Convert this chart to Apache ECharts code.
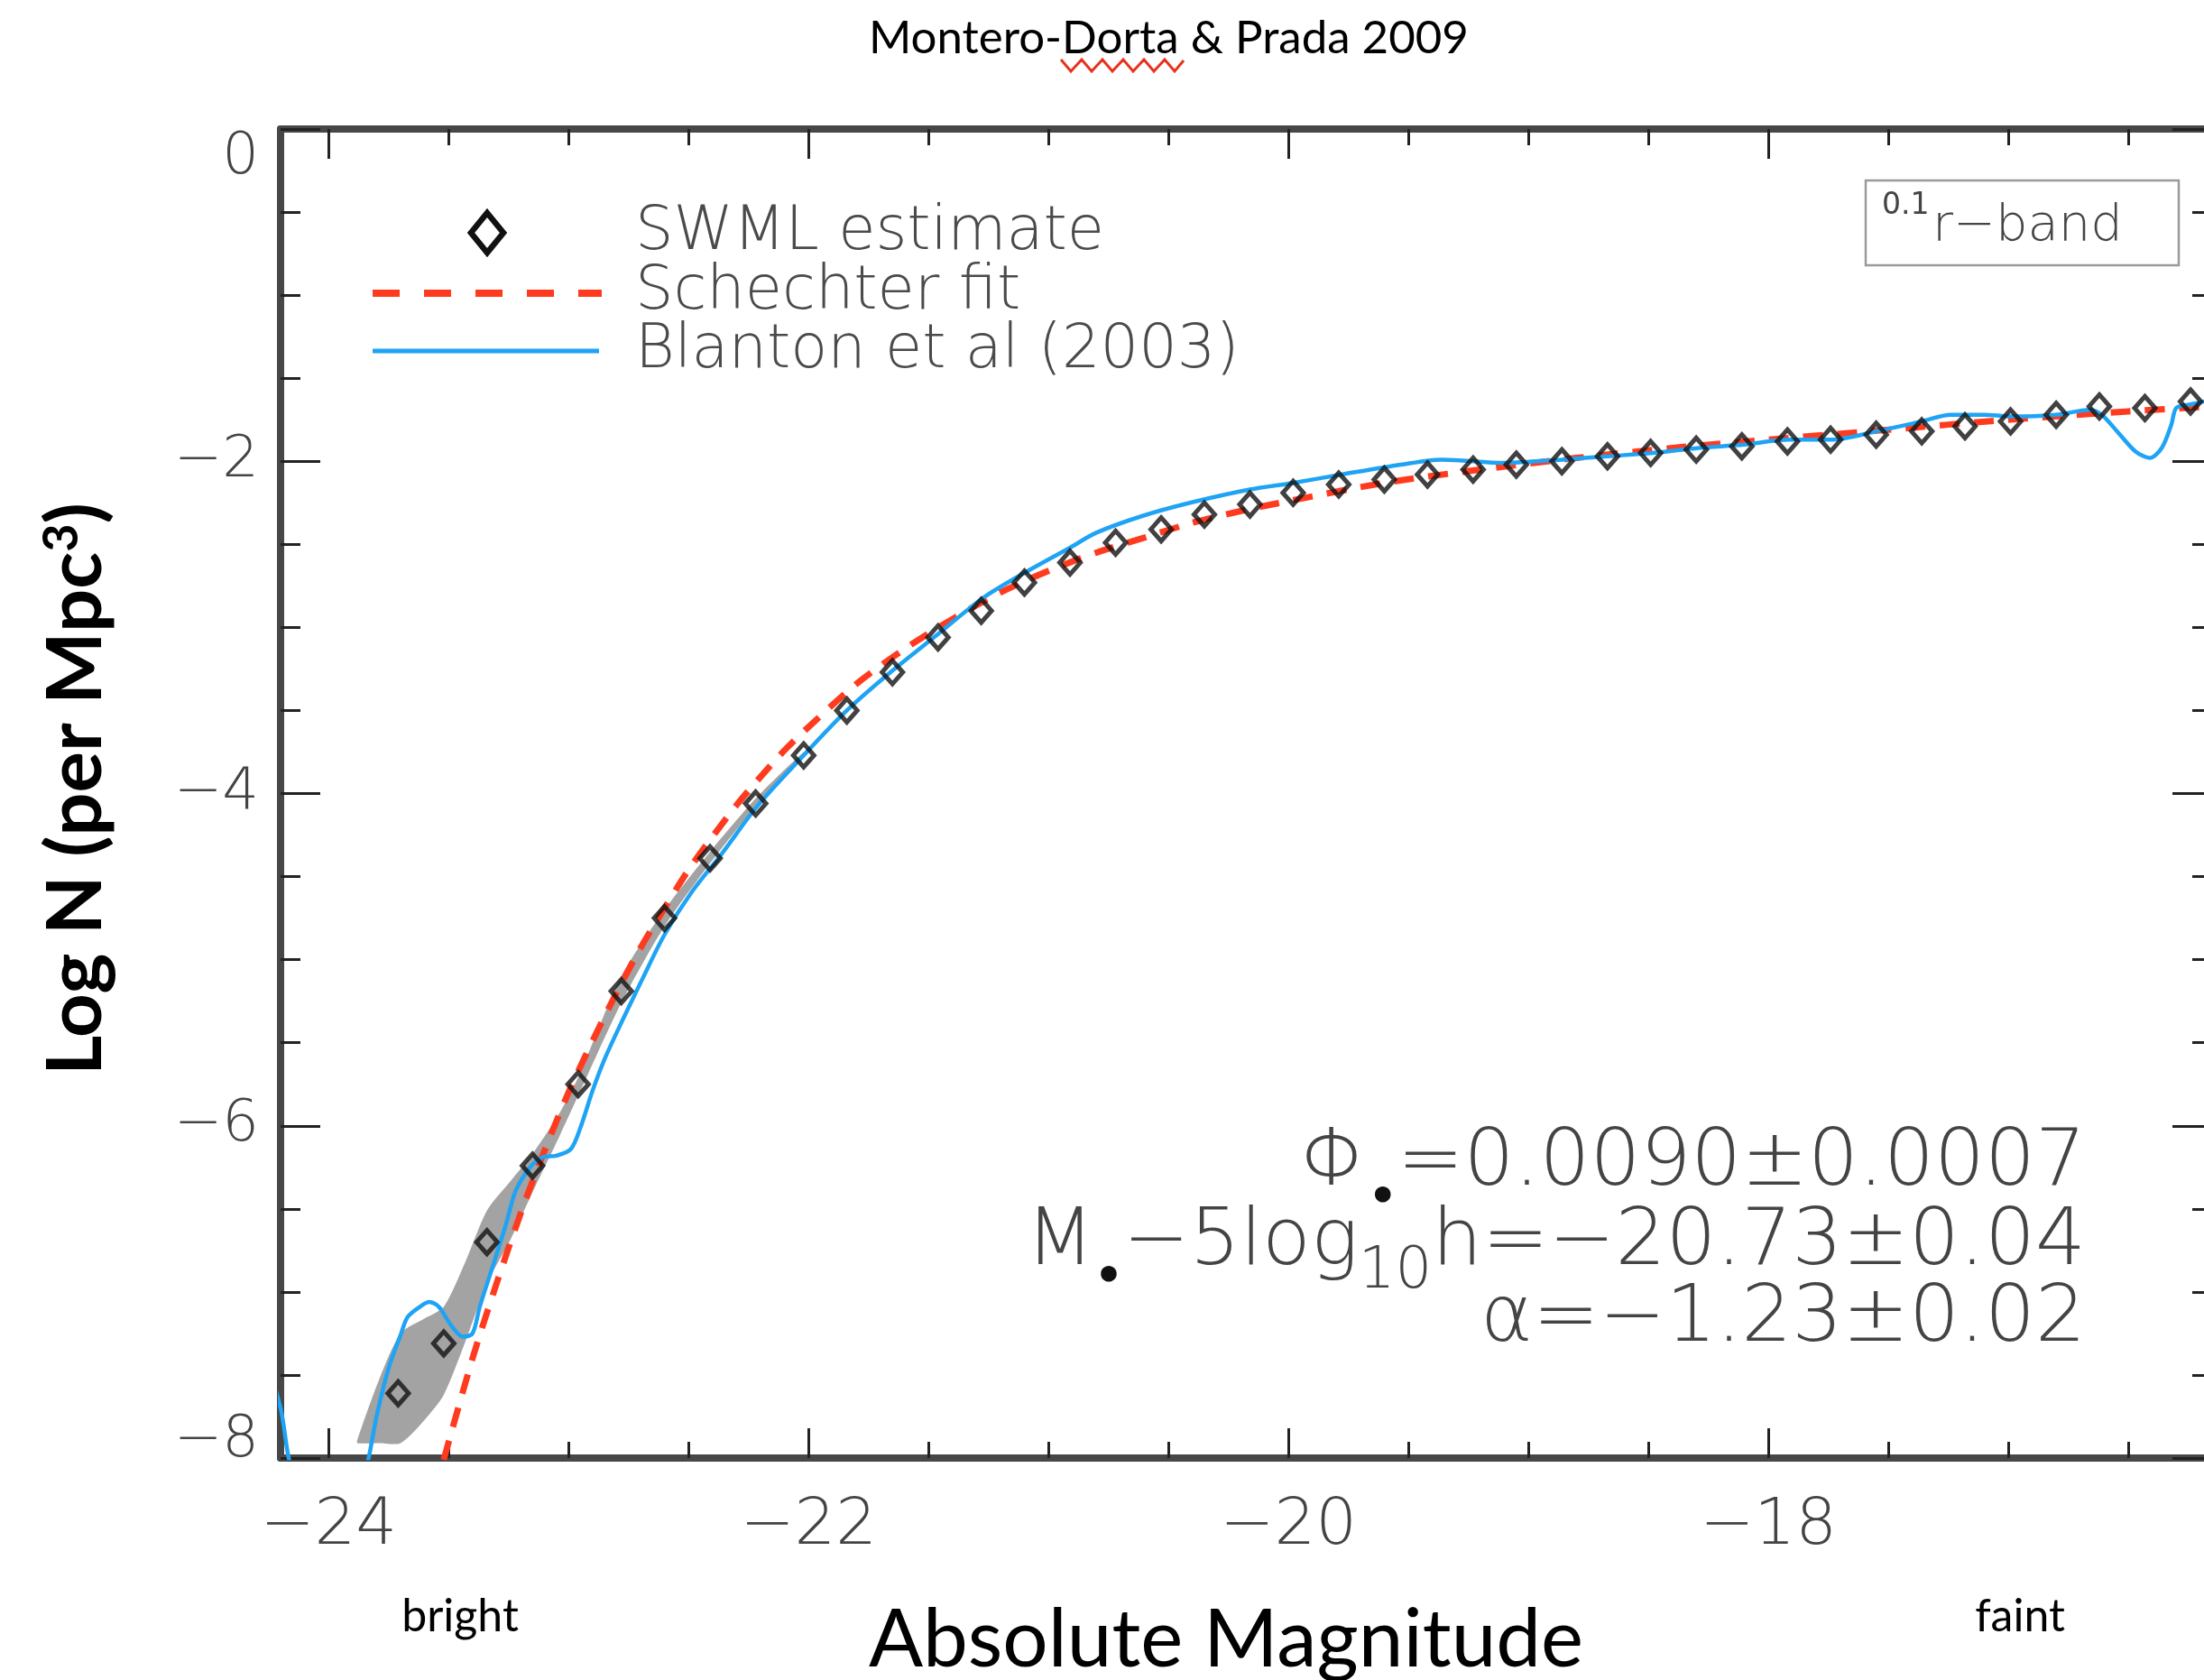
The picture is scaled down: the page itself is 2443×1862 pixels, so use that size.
<!DOCTYPE html>
<html><head><meta charset="utf-8">
<script src="https://cdn.jsdelivr.net/npm/echarts@6/dist/echarts.min.js"></script>
<style>html,body{margin:0;padding:0;background:#fff}#c{width:2443px;height:1862px}</style>
</head><body><div id="c"></div><script>
// ---------------- data ----------------
const swmlMag = [-23.71,-23.52,-23.34,-23.15,-22.96,-22.78,-22.60,-22.41,-22.22,-22.02,-21.84,-21.65,-21.46,-21.28,-21.10,-20.91,-20.72,-20.53,-20.35,-20.16,-19.98,-19.79,-19.60,-19.42,-19.23,-19.05,-18.86,-18.67,-18.49,-18.30,-18.11,-17.92,-17.74,-17.55,-17.36,-17.18,-16.99,-16.80,-16.62,-16.43,-16.24];
const swmlLogN = [-7.61,-7.31,-6.70,-6.24,-5.75,-5.19,-4.75,-4.39,-4.06,-3.77,-3.50,-3.27,-3.06,-2.90,-2.73,-2.61,-2.49,-2.41,-2.32,-2.26,-2.19,-2.14,-2.11,-2.08,-2.05,-2.02,-2.00,-1.97,-1.95,-1.93,-1.91,-1.88,-1.87,-1.84,-1.82,-1.79,-1.76,-1.72,-1.67,-1.68,-1.64];

const fitMag = [-23.52,-23.4,-23.3,-23.2,-23.1,-23.0,-22.9,-22.8,-22.7,-22.6,-22.5,-22.4,-22.3,-22.2,-22.1,-22.0,-21.8,-21.6,-21.4,-21.2,-21.0,-20.8,-20.6,-20.4,-20.2,-20.0,-19.6,-19.2,-18.8,-18.4,-18.0,-17.5,-17.0,-16.5,-16.15];
const fitLogN = [-8.01,-7.40,-6.95,-6.53,-6.15,-5.80,-5.49,-5.20,-4.93,-4.69,-4.46,-4.26,-4.07,-3.90,-3.74,-3.60,-3.34,-3.13,-2.95,-2.79,-2.66,-2.55,-2.46,-2.37,-2.30,-2.24,-2.13,-2.05,-1.98,-1.92,-1.87,-1.81,-1.75,-1.70,-1.67];

const blantonMag = [-24.30,-24.20,-24.166,-24.10,-24.00,-23.90,-23.85,-23.83,-23.80,-23.75,-23.70,-23.67,-23.61,-23.58,-23.54,-23.49,-23.44,-23.40,-23.37,-23.31,-23.26,-23.22,-23.16,-23.11,-23.05,-22.99,-22.95,-22.90,-22.85,-22.78,-22.69,-22.60,-22.49,-22.36,-22.21,-22.02,-21.84,-21.65,-21.46,-21.27,-21.11,-20.91,-20.80,-20.61,-20.41,-20.16,-19.98,-19.78,-19.53,-19.36,-19.10,-18.86,-18.67,-18.48,-18.29,-18.10,-17.92,-17.74,-17.55,-17.36,-17.24,-17.10,-16.99,-16.80,-16.66,-16.61,-16.54,-16.47,-16.41,-16.36,-16.32,-16.30,-16.25,-16.15];
const blantonLogN = [-7.20,-7.70,-8.00,-8.35,-8.60,-8.45,-8.10,-7.98,-7.75,-7.46,-7.26,-7.15,-7.08,-7.06,-7.09,-7.20,-7.27,-7.25,-7.09,-6.82,-6.59,-6.39,-6.25,-6.19,-6.18,-6.14,-6.01,-5.79,-5.60,-5.38,-5.11,-4.85,-4.60,-4.36,-4.07,-3.77,-3.50,-3.26,-3.04,-2.82,-2.68,-2.52,-2.43,-2.33,-2.25,-2.17,-2.13,-2.08,-2.02,-1.99,-2.01,-1.99,-1.97,-1.95,-1.92,-1.90,-1.87,-1.87,-1.82,-1.76,-1.72,-1.72,-1.73,-1.72,-1.69,-1.72,-1.83,-1.94,-1.98,-1.92,-1.78,-1.68,-1.66,-1.63];

const bandMag  = [-23.88,-23.79,-23.70,-23.60,-23.52,-23.43,-23.34,-23.24,-23.15,-23.04,-22.96,-22.78,-22.60,-22.41,-22.22,-22.02];
const bandHigh = [-7.89,-7.53,-7.25,-7.16,-7.09,-6.82,-6.51,-6.33,-6.17,-5.93,-5.71,-5.10,-4.70,-4.35,-4.03,-3.75];
const bandLow  = [-7.91,-7.91,-7.91,-7.77,-7.62,-7.30,-6.95,-6.68,-6.40,-6.07,-5.82,-5.26,-4.80,-4.42,-4.08,-3.78];

const xMajorTicks = [-24, -22, -20, -18];
const xMinorTicks = [-24,-23.5,-23,-22.5,-22,-21.5,-21,-20.5,-20,-19.5,-19,-18.5,-18,-17.5,-17,-16.5];
const xRange = [-24.2, -16.15];
const yRange = [-8, 0];

const legendLabels = ['SWML estimate', 'Schechter fit', 'Blanton et al (2003)'];
const statLines = ['{m|\u03A6}{d|\u2022}{m|=0.0090\u00B10.0007}',
                   '{m|M}{d|\u2022}{m|\u22125log}{s|10}{m|h=\u221220.73\u00B10.04}',
                   '{m|\u03B1=\u22121.23\u00B10.02}'];

// ---------------- styling ----------------
const THIN = "'DejaVu Sans', 'DejaVu Sans ExtraLight', sans-serif";
const HUMAN = "Lato, 'Open Sans', sans-serif";
const AX = '#474747';
const TICK = '#222';
const minus = v => (v < 0 ? '\u2212' + Math.abs(v) : String(v));

function xAx(pos, ticks, len, showLine, showLabel) {
  return {
    type: 'value', position: pos, min: xRange[0], max: xRange[1],
    axisLine: { show: showLine, onZero: false, lineStyle: { color: AX, width: 8 } },
    axisTick: { show: true, inside: true, length: len, customValues: ticks, lineStyle: { color: TICK, width: 3 } },
    axisLabel: { show: showLabel, customValues: ticks, formatter: minus, margin: 40,
      fontSize: 72, fontFamily: THIN, fontWeight: 200, color: '#444' },
    splitLine: { show: false }
  };
}
function yAx(pos, showLabel) {
  return {
    type: 'value', position: pos, min: yRange[0], max: yRange[1], interval: 2,
    axisLine: { show: true, onZero: false, lineStyle: { color: AX, width: 8 } },
    axisTick: { show: true, inside: true, length: 44, lineStyle: { color: TICK, width: 3 } },
    minorTick: { show: true, splitNumber: 4, length: 22, lineStyle: { color: TICK, width: 3 } },
    axisLabel: { show: showLabel, margin: 24, fontSize: 64, fontFamily: THIN,
      fontWeight: 200, color: '#444', verticalAlignMaxLabel: 'top',
      formatter: v => (v === yRange[0] ? '{lo|' + minus(v) + '}' : minus(v)),
      rich: { lo: { fontSize: 64, fontFamily: THIN, fontWeight: 200, color: '#444', padding: [0, 0, 38, 0] } } },
    splitLine: { show: false }, minorSplitLine: { show: false }
  };
}

const xBottom = xAx('bottom', xMajorTicks, 33, true, true);
xBottom.name = 'Absolute Magnitude';
xBottom.nameLocation = 'middle';
xBottom.nameGap = 158;
xBottom.nameTextStyle = { fontFamily: HUMAN, fontSize: 89, color: '#000', padding: [0, 45, 0, 0] };

const yLeft = yAx('left', true);
yLeft.name = 'Log N (per Mpc{sup|3})';
yLeft.nameLocation = 'middle';
yLeft.nameRotate = 90;
yLeft.nameGap = 184;
yLeft.nameTextStyle = { fontFamily: HUMAN, fontWeight: 'bold', fontSize: 85, color: '#000', padding: [0, 0, 0, 10],
  rich: { sup: { fontFamily: HUMAN, fontWeight: 'bold', fontSize: 54, color: '#000', verticalAlign: 'top', lineHeight: 54 } } };

const legendX = 413, legendTextX = 704;
const richStat = {
  m: { fontSize: 88, fontFamily: THIN, fontWeight: 200, fill: '#444', lineHeight: 128 },
  d: { fontSize: 50, fontFamily: "'DejaVu Sans', sans-serif", fontWeight: 'bold', fill: '#111', lineHeight: 62, verticalAlign: 'bottom' },
  s: { fontSize: 64, fontFamily: THIN, fontWeight: 200, fill: '#444', lineHeight: 66, verticalAlign: 'bottom' }
};

const option = {
  animation: false,
  backgroundColor: '#fff',
  title: { text: 'Montero-Dorta & Prada 2009', left: 958, top: 12,
    textStyle: { fontFamily: HUMAN, fontSize: 51, fontWeight: 'normal', color: '#000' } },
  grid: { left: 311, top: 143, width: 2141, height: 1473, containLabel: false, outerBoundsMode: 'none' },
  xAxis: [xBottom, xAx('bottom', xMinorTicks, 18, false, false),
          xAx('top', xMajorTicks, 33, true, false), xAx('top', xMinorTicks, 18, false, false)],
  yAxis: [yLeft, yAx('right', false)],
  series: [
    { type: 'custom', name: 'SWML uncertainty', xAxisIndex: 0, yAxisIndex: 0, silent: true, z: 1, clip: true,
      data: [[bandMag[0], bandLow[0]]],
      renderItem: function (params, api) {
        const pts = [];
        for (let i = 0; i < bandMag.length; i++) pts.push(api.coord([bandMag[i], bandHigh[i]]));
        for (let i = bandMag.length - 1; i >= 0; i--) pts.push(api.coord([bandMag[i], bandLow[i]]));
        return { type: 'polygon', shape: { points: pts, smooth: 0.25 }, style: { fill: '#a3a3a3', stroke: 'none' } };
      } },
    { type: 'line', name: legendLabels[1], xAxisIndex: 0, yAxisIndex: 0, z: 3, clip: true,
      data: fitMag.map((m, i) => [m, fitLogN[i]]), symbol: 'none', smooth: 0.3,
      lineStyle: { color: '#ff3b1f', width: 7, type: [22, 16] } },
    { type: 'line', name: legendLabels[2], xAxisIndex: 0, yAxisIndex: 0, z: 4, clip: true,
      data: blantonMag.map((m, i) => [m, blantonLogN[i]]), symbol: 'none', smooth: 0.3,
      lineStyle: { color: '#1ea3f5', width: 4.5 } },
    { type: 'scatter', name: legendLabels[0], xAxisIndex: 0, yAxisIndex: 0, z: 5,
      data: swmlMag.map((m, i) => [m, swmlLogN[i]]), symbol: 'diamond', symbolSize: [23, 26],
      itemStyle: { color: 'rgba(0,0,0,0)', borderColor: '#111', borderWidth: 5 } }
  ],
  graphic: [
    // spell-check squiggle under "Dorta"
    { type: 'polyline', z: 10, shape: { points: [[1176,66],[1187,79],[1199,66],[1210,79],[1222,66],[1233,79],[1245,66],[1256,79],[1268,66],[1279,79],[1291,66],[1302,79],[1312,67]] },
      style: { stroke: '#e8321f', lineWidth: 3, fill: 'none' } },
    // legend
    { type: 'polygon', z: 10, shape: { points: [[540,236],[558,258],[540,280],[522,258]] },
      style: { fill: 'none', stroke: '#111', lineWidth: 6.5 } },
    { type: 'line', z: 10, shape: { x1: legendX, y1: 325, x2: 667, y2: 325 },
      style: { stroke: '#ff3b1f', lineWidth: 8, lineDash: [30, 27] } },
    { type: 'line', z: 10, shape: { x1: legendX, y1: 389, x2: 664, y2: 389 },
      style: { stroke: '#1ea3f5', lineWidth: 5 } },
    { type: 'text', z: 10, x: legendTextX, y: 259, style: { text: legendLabels[0], fontSize: 67, fontFamily: THIN, fontWeight: 200, fill: '#4a4a4a', verticalAlign: 'middle' } },
    { type: 'text', z: 10, x: legendTextX, y: 325, style: { text: legendLabels[1], fontSize: 67, fontFamily: THIN, fontWeight: 200, fill: '#4a4a4a', verticalAlign: 'middle' } },
    { type: 'text', z: 10, x: legendTextX, y: 390, style: { text: legendLabels[2], fontSize: 67, fontFamily: THIN, fontWeight: 200, fill: '#4a4a4a', verticalAlign: 'middle' } },
    // band label box
    { type: 'rect', z: 10, shape: { x: 2068, y: 200, width: 347, height: 94 },
      style: { fill: '#fff', stroke: '#9a9a9a', lineWidth: 2.5 } },
    { type: 'text', z: 11, x: 2086, y: 228, style: { text: '0.1', fontSize: 33, fontFamily: THIN, fill: '#444', verticalAlign: 'middle' } },
    { type: 'text', z: 11, x: 2142, y: 251, style: { text: 'r\u2212band', fontSize: 56, fontFamily: THIN, fontWeight: 200, fill: '#444', verticalAlign: 'middle' } },
    // fit parameters
    { type: 'text', z: 10, x: 2312, y: 1290, style: { text: statLines[0], align: 'right', verticalAlign: 'middle', rich: richStat } },
    { type: 'text', z: 10, x: 2312, y: 1378, style: { text: statLines[1], align: 'right', verticalAlign: 'middle', rich: richStat } },
    { type: 'text', z: 10, x: 2312, y: 1463, style: { text: statLines[2], align: 'right', verticalAlign: 'middle', rich: richStat } },
    // bright / faint
    { type: 'text', z: 10, x: 510, y: 1792, style: { text: 'bright', fontSize: 50, fontFamily: HUMAN, fill: '#000', align: 'center', verticalAlign: 'middle' } },
    { type: 'text', z: 10, x: 2239, y: 1792, style: { text: 'faint', fontSize: 50, fontFamily: HUMAN, fill: '#000', align: 'center', verticalAlign: 'middle' } }
  ]
};

const chart = echarts.init(document.getElementById('c'), null, { renderer: 'canvas' });
chart.setOption(option);
</script></body></html>
